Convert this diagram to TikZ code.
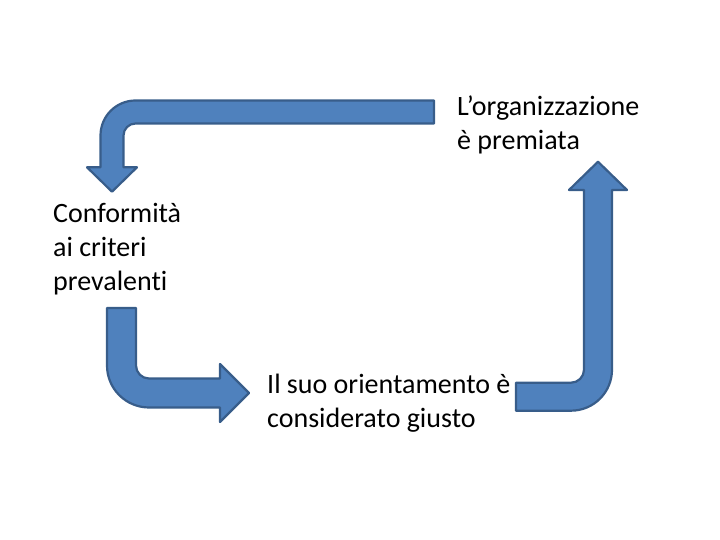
\documentclass[tikz,border=0pt]{standalone}
\usepackage{fontspec}
\setmainfont{Carlito}[Ligatures=NoCommon]
\usepackage{tikz}
\definecolor{arrowfill}{HTML}{4F81BD}
\definecolor{arrowline}{HTML}{385D8A}
\begin{document}
\begin{tikzpicture}[x=1pt, y=1pt,
    every node/.style={anchor=base west, inner sep=0pt, align=left, font=\fontsize{28}{34}\selectfont},
    bentarrow/.style={fill=arrowfill, draw=arrowline, line width=2.2pt, line join=round}]
        \useasboundingbox (0,0) rectangle (720,540);
        % Nodes (base = last line)
        \node (premiata) at (457,390.5) {L’organizzazione\\è premiata};
        \node (conformita) at (53,249) {Conformità\\ai criteri\\prevalenti};
        \node (giusto) at (267,112) {Il suo orientamento è\\considerato giusto};
        
        % Arrows
        \draw[bentarrow] (434,439.5) -- (135.5,439.5) arc (90:180:35) -- (100.5,372.7)
            -- (87,372.7) -- (112,348.3) -- (137,372.7) -- (123.5,372.7) -- (123.5,404.5)
            arc (180:90:12) -- (434,416.5) -- cycle;
        \draw[bentarrow] (107,232) -- (107,174.5) arc (180:270:42) -- (220,132.5)
            -- (220,118) -- (249,147) -- (220,176) -- (220,161.5) -- (149,161.5)
            arc (270:180:13) -- (136,232) -- cycle;
        \draw[bentarrow] (516,157.3) -- (571,157.3) arc (270:360:13) -- (584,350)
            -- (569,350) -- (598,378.3) -- (627,350) -- (612,350) -- (612,170.3)
            arc (0:-90:41) -- (516,129.3) -- cycle;
    \end{tikzpicture}
\end{document}
